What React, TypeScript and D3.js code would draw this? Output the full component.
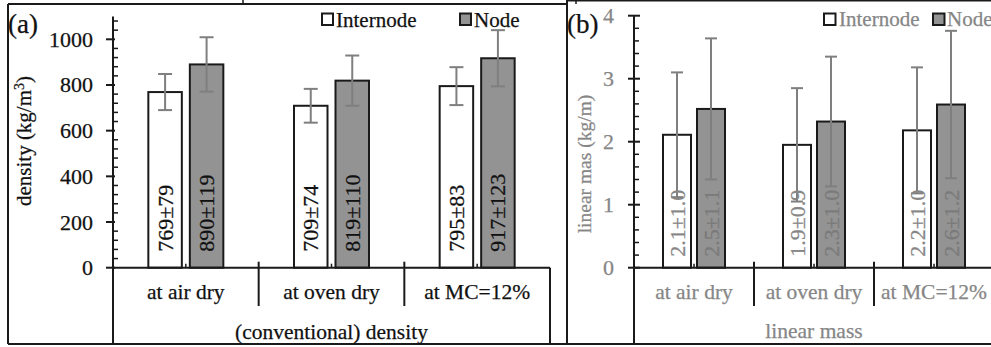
import React from "react";
import * as d3 from "d3";

const categories = ["at air dry", "at oven dry", "at MC=12%"];
const seriesNames = ["Internode", "Node"];

const densityInternode = [769, 709, 795];
const densityNode = [890, 819, 917];
const densityInternodeErr = [79, 74, 83];
const densityNodeErr = [119, 110, 123];
const densityLabelsInternode = ["769±79", "709±74", "795±83"];
const densityLabelsNode = ["890±119", "819±110", "917±123"];
const densityTicks = [0, 200, 400, 600, 800, 1000];

const massInternode = [2.11, 1.95, 2.18];
const massNode = [2.52, 2.32, 2.59];
const massInternodeErr = [0.99, 0.9, 1.0];
const massNodeErr = [1.12, 1.03, 1.17];
const massLabelsInternode = ["2.1±1.0", "1.9±0.9", "2.2±1.0"];
const massLabelsNode = ["2.5±1.1", "2.3±1.0", "2.6±1.2"];
const massTicks = [0, 1, 2, 3, 4];

const FONT = "Liberation Serif, Times New Roman, DejaVu Serif, serif";
const NODE_FILL = "#939393";
const ERR = "#7f7f7f";
const GREY_TEXT = "#868686";

type PanelProps = {
  x0: number; x1: number; yTop: number; yBase: number;
  yMax: number; ticks: number[]; minorStep: number;
  inter: number[]; node: number[]; interErr: number[]; nodeErr: number[];
  interLabels: string[]; nodeLabels: string[];
  barW: number; gap: number; cap: number; labelOffset: number;
  textColor: string; nodeLabelColor: string;
  majorLeft: number; majorRight: number;
  groupTitle: string; titleY: number;
};

function txt(color: string) {
  return { fontFamily: FONT, stroke: color, strokeWidth: 0.25 } as React.CSSProperties;
}

function Panel(p: PanelProps) {
  const x = d3.scaleBand<string>().domain(categories).range([p.x0, p.x1]).padding(0);
  const y = d3.scaleLinear().domain([0, p.yMax]).range([p.yBase, p.yTop]);
  const minor = d3.range(0, p.yMax + 1e-9, p.minorStep).filter(
    (v) => !p.ticks.some((t) => Math.abs(t - v) < 1e-9)
  );
  const bw = x.bandwidth();
  const els: React.ReactNode[] = [];
  categories.forEach((c, i) => {
    const cx = (x(c) as number) + bw / 2;
    const xi = cx - p.gap / 2 - p.barW;
    const xn = cx + p.gap / 2;
    els.push(
      <g key={c}>
        <rect x={xi} y={y(p.inter[i])} width={p.barW} height={p.yBase - y(p.inter[i])}
          fill="#fff" stroke="#1a1a1a" strokeWidth={2} />
        <rect x={xn} y={y(p.node[i])} width={p.barW} height={p.yBase - y(p.node[i])}
          fill={NODE_FILL} stroke="#1a1a1a" strokeWidth={2} />
        {[
          [xi, p.inter[i], p.interErr[i]],
          [xn, p.node[i], p.nodeErr[i]],
        ].map(([bx, v, e], k) => {
          const mx = bx + p.barW / 2;
          return (
            <g key={k} stroke={ERR} strokeWidth={2}>
              <line x1={mx} x2={mx} y1={y(v + e)} y2={y(v - e)} />
              <line x1={mx - p.cap / 2} x2={mx + p.cap / 2} y1={y(v + e)} y2={y(v + e)} />
              <line x1={mx - p.cap / 2} x2={mx + p.cap / 2} y1={y(v - e)} y2={y(v - e)} />
            </g>
          );
        })}
        <text transform={`translate(${xi + p.barW / 2 + 7.5},${p.yBase - p.labelOffset}) rotate(-90)`}
          fontSize={22} fill={p.textColor} style={txt(p.textColor)}>{p.interLabels[i]}</text>
        <text transform={`translate(${xn + p.barW / 2 + 7.5},${p.yBase - p.labelOffset}) rotate(-90)`}
          fontSize={22} fill={p.nodeLabelColor} style={txt(p.nodeLabelColor)}>{p.nodeLabels[i]}</text>
        <line x1={cx} x2={cx} y1={p.yBase} y2={p.yBase - 4} stroke="#1a1a1a" strokeWidth={1.5} />
        <text x={cx} y={299} textAnchor="middle" fontSize={21.5} fill={p.textColor}
          style={txt(p.textColor)}>{c}</text>
      </g>
    );
  });
  return (
    <g>
      <line x1={p.x0} x2={p.x0} y1={y(p.yMax)} y2={344} stroke="#1a1a1a" strokeWidth={2} />
      {p.ticks.map((t) => (
        <g key={t}>
          <line x1={p.x0 - p.majorLeft} x2={p.x0 + p.majorRight} y1={y(t)} y2={y(t)} stroke="#1a1a1a" strokeWidth={2} />
          <text x={p.x0 - 20} y={y(t) + 7.5} textAnchor="end" fontSize={22} fill={p.textColor}
            style={txt(p.textColor)}>{t}</text>
        </g>
      ))}
      {minor.map((t) => (
        <line key={t} x1={p.x0} x2={p.x0 + 5} y1={y(t)} y2={y(t)} stroke="#1a1a1a" strokeWidth={1.5} />
      ))}
      {els}
      <line x1={p.x0} x2={p.x1} y1={p.yBase} y2={p.yBase} stroke="#1a1a1a" strokeWidth={2} />
      {categories.slice(1).map((c) => (
        <line key={c} x1={x(c) as number} x2={x(c) as number} y1={p.yBase - 6} y2={306}
          stroke="#1a1a1a" strokeWidth={2} />
      ))}
      <line x1={p.x1} x2={p.x1} y1={p.yBase} y2={344} stroke="#1a1a1a" strokeWidth={2} />
      <text x={(p.x0 + p.x1) / 2} y={p.titleY} textAnchor="middle"
        fontSize={21.5} fill={p.textColor} style={txt(p.textColor)}>{p.groupTitle}</text>
    </g>
  );
}

export default function App() {
  const t = txt("#111");
  const g = txt(GREY_TEXT);
  return (
    <svg width={991} height={347} style={{ position: "absolute", left: 0, top: 0, background: "#fff", fontFamily: FONT }}>
      <rect x={0} y={0} width={991} height={347} fill="#fff" />
      <line x1={8} x2={567} y1={4} y2={4} stroke="#1a1a1a" strokeWidth={2} />
      <line x1={567} x2={991} y1={0.8} y2={0.8} stroke="#1a1a1a" strokeWidth={1.5} />
      <line x1={8} x2={8} y1={4} y2={344} stroke="#1a1a1a" strokeWidth={2} />
      <line x1={567} x2={567} y1={0} y2={344} stroke="#1a1a1a" strokeWidth={2} />
      <line x1={8} x2={991} y1={344} y2={344} stroke="#1a1a1a" strokeWidth={2} />
      <line x1={243} x2={243} y1={0} y2={4} stroke="#1a1a1a" strokeWidth={1.5} />
      <line x1={576} x2={576} y1={0} y2={4} stroke="#1a1a1a" strokeWidth={1.5} />

      <text x={8} y={33} fontSize={27} fill="#111" style={t}>(a)</text>
      <text transform="translate(31,141) rotate(-90)" textAnchor="middle" fontSize={21} fill="#111" style={t}>
        density (kg/m<tspan fontSize={14} dy={-7}>3</tspan><tspan dy={7}>)</tspan>
      </text>
      <Panel x0={113} x1={550} yTop={267.7 - 1100 * (228.4 / 1000)} yBase={267.7} yMax={1100}
        ticks={densityTicks} minorStep={40}
        inter={densityInternode} node={densityNode} interErr={densityInternodeErr} nodeErr={densityNodeErr}
        interLabels={densityLabelsInternode} nodeLabels={densityLabelsNode}
        barW={33.5} gap={8} cap={14} labelOffset={16}
        textColor="#111" nodeLabelColor="#111" majorLeft={7} majorRight={2}
        groupTitle="(conventional) density" titleY={339} />
      <rect x={322} y={13.5} width={11} height={11.5} fill="#fff" stroke="#1a1a1a" strokeWidth={2} />
      <text x={336} y={26.5} fontSize={21} fill="#111" style={t}>{seriesNames[0]}</text>
      <rect x={460} y={13.5} width={11} height={11.5} fill={NODE_FILL} stroke="#1a1a1a" strokeWidth={2} />
      <text x={474} y={26.5} fontSize={21} fill="#111" style={t}>{seriesNames[1]}</text>

      <text x={567} y={33} fontSize={27} fill="#111" style={t}>(b)</text>
      <text transform="translate(591,164) rotate(-90)" textAnchor="middle" fontSize={19.5} fill={GREY_TEXT} style={g}>
        linear mas (kg/m)
      </text>
      <Panel x0={634} x1={994} yTop={15.7} yBase={267.7} yMax={4}
        ticks={massTicks} minorStep={0.2}
        inter={massInternode} node={massNode} interErr={massInternodeErr} nodeErr={massNodeErr}
        interLabels={massLabelsInternode} nodeLabels={massLabelsNode}
        barW={28} gap={6} cap={12} labelOffset={11}
        textColor={GREY_TEXT} nodeLabelColor="#7a7a7a" majorLeft={6} majorRight={6}
        groupTitle="linear mass" titleY={338} />
      <rect x={824} y={13.5} width={11.5} height={11.5} fill="#fff" stroke="#1a1a1a" strokeWidth={2} />
      <text x={839} y={26} fontSize={21} fill={GREY_TEXT} style={g}>{seriesNames[0]}</text>
      <rect x={933} y={13.5} width={11.5} height={11.5} fill={NODE_FILL} stroke="#1a1a1a" strokeWidth={2} />
      <text x={947} y={26} fontSize={21} fill={GREY_TEXT} style={g}>{seriesNames[1]}</text>
    </svg>
  );
}
